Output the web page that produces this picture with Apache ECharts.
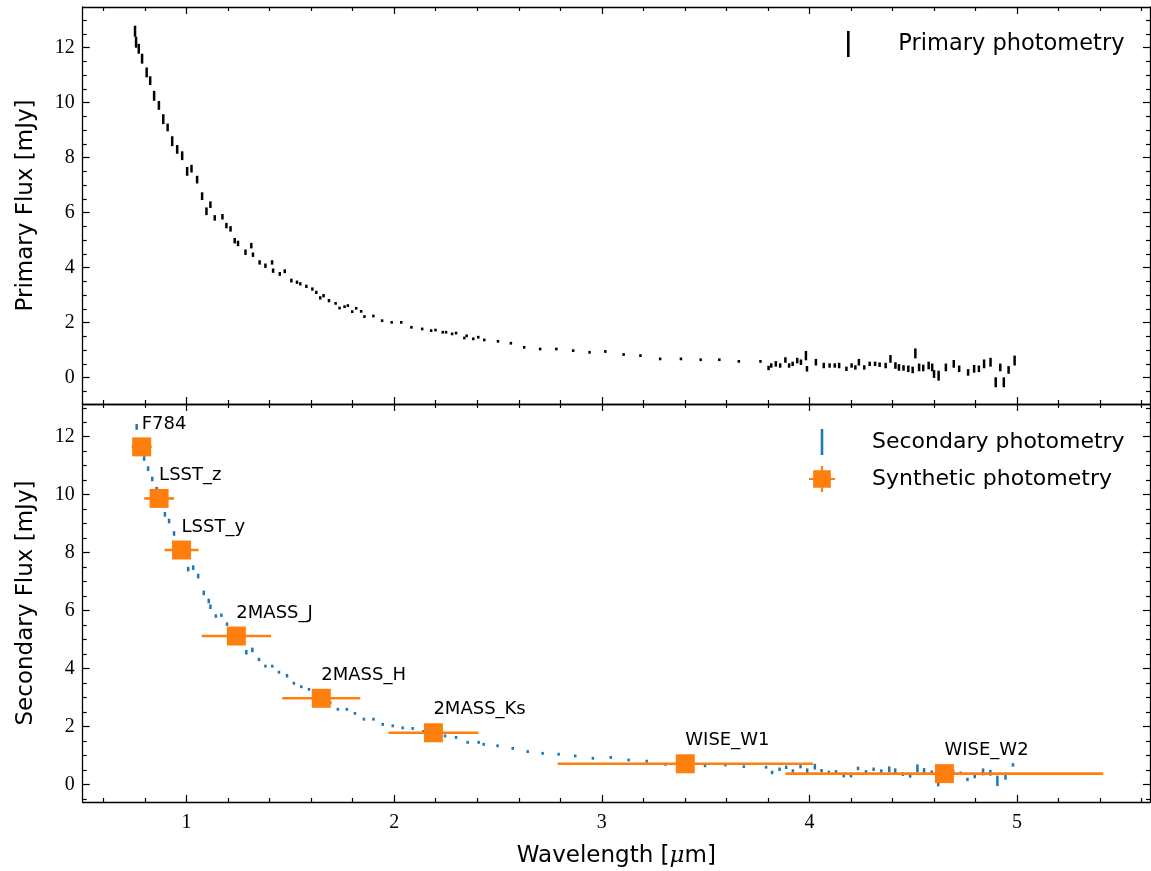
<!DOCTYPE html>
<html><head><meta charset="utf-8">
<script src="https://cdn.jsdelivr.net/npm/echarts@6/dist/echarts.min.js"></script>
<style>html,body{margin:0;padding:0;background:#fff}#c{width:1151px;height:871px}</style>
</head><body><div id="c"></div>
<script>
// ---------- data ----------
const primWl = [0.752,0.757,0.770,0.786,0.808,0.825,0.844,0.867,0.888,0.909,0.931,0.955,0.979,1.003,1.024,1.051,1.075,1.096,1.115,1.136,1.173,1.192,1.212,1.232,1.248,1.284,1.312,1.320,1.352,1.380,1.412,1.417,1.449,1.473,1.505,1.532,1.548,1.577,1.606,1.625,1.644,1.660,1.686,1.718,1.737,1.761,1.777,1.798,1.817,1.841,1.857,1.900,1.942,1.988,2.034,2.083,2.135,2.178,2.199,2.234,2.250,2.279,2.298,2.338,2.349,2.381,2.405,2.434,2.500,2.562,2.626,2.703,2.781,2.862,2.941,3.017,3.105,3.186,3.281,3.381,3.476,3.566,3.660,3.764,
  3.803,3.816,3.838,3.859,3.884,3.902,3.919,3.941,3.959,3.983,3.988,4.031,4.069,4.097,4.122,4.143,4.178,4.203,4.221,4.238,4.264,4.290,4.316,4.338,4.367,4.390,4.414,4.431,4.453,4.476,4.497,4.510,4.528,4.548,4.574,4.591,4.600,4.622,4.657,4.695,4.721,4.764,4.793,4.816,4.841,4.872,4.897,4.919,4.936,4.959,4.988];
const primFlux = [12.60,12.20,11.96,11.60,11.10,10.80,10.25,9.90,9.40,9.10,8.60,8.30,8.07,7.50,7.60,7.20,6.60,6.05,6.29,5.81,5.85,5.53,5.41,4.98,4.88,4.56,4.80,4.47,4.19,4.07,4.19,3.89,3.77,3.87,3.53,3.47,3.41,3.32,3.22,3.10,2.90,2.98,2.80,2.70,2.53,2.58,2.62,2.40,2.52,2.41,2.22,2.24,2.07,2.01,2.01,1.83,1.77,1.71,1.73,1.65,1.65,1.59,1.62,1.44,1.52,1.41,1.47,1.37,1.32,1.25,1.10,1.04,1.04,0.98,0.92,0.95,0.84,0.80,0.68,0.68,0.65,0.65,0.59,0.59,
  0.35,0.44,0.50,0.44,0.64,0.44,0.50,0.62,0.56,0.80,0.32,0.56,0.44,0.44,0.44,0.44,0.32,0.44,0.37,0.56,0.37,0.50,0.50,0.47,0.44,0.68,0.44,0.37,0.35,0.32,0.28,0.88,0.37,0.35,0.44,0.37,0.13,0.07,0.37,0.50,0.32,0.19,0.32,0.32,0.50,0.56,-0.17,0.37,-0.17,0.28,0.62];
const primErr = [0.20,0.20,0.18,0.18,0.18,0.16,0.18,0.16,0.18,0.14,0.18,0.16,0.16,0.16,0.14,0.14,0.14,0.14,0.12,0.10,0.10,0.10,0.10,0.10,0.10,0.10,0.10,0.08,0.08,0.08,0.08,0.08,0.07,0.07,0.07,0.06,0.06,0.06,0.06,0.06,0.06,0.06,0.06,0.05,0.05,0.05,0.05,0.05,0.05,0.05,0.05,0.05,0.05,0.05,0.05,0.05,0.05,0.05,0.05,0.05,0.05,0.05,0.05,0.05,0.05,0.05,0.05,0.05,0.05,0.05,0.05,0.05,0.05,0.05,0.05,0.05,0.05,0.05,0.05,0.05,0.05,0.05,0.05,0.05,
  0.08,0.08,0.10,0.08,0.10,0.08,0.08,0.10,0.10,0.17,0.10,0.12,0.10,0.08,0.08,0.10,0.08,0.08,0.08,0.12,0.08,0.08,0.08,0.08,0.10,0.14,0.12,0.12,0.10,0.12,0.12,0.18,0.14,0.12,0.14,0.14,0.14,0.18,0.14,0.14,0.12,0.12,0.14,0.12,0.16,0.16,0.18,0.14,0.18,0.14,0.18];

const secWl = [0.760,0.796,0.815,0.835,0.856,0.872,0.896,0.916,0.940,0.972,1.008,1.032,1.056,1.083,1.107,1.115,1.141,1.168,1.195,1.235,1.262,1.288,1.317,1.349,1.380,1.413,1.445,1.484,1.517,1.553,1.590,1.625,1.660,1.692,1.729,1.772,1.811,1.854,1.900,1.945,1.993,2.041,2.089,2.140,2.195,2.245,2.298,2.354,2.407,2.431,2.498,2.571,2.643,2.715,2.792,2.872,2.957,3.043,3.129,3.216,3.307,3.405,3.497,3.595,3.684,3.791,3.820,3.856,3.888,3.920,3.957,3.989,4.026,4.058,4.093,4.128,4.165,4.200,4.234,4.272,4.309,4.346,4.384,4.413,4.450,4.485,4.520,4.552,4.589,4.620,4.655,4.692,4.729,4.761,4.796,4.836,4.871,4.905,4.944,4.980];
const secFlux = [12.34,11.25,10.90,10.54,10.19,9.80,9.32,9.09,8.66,8.10,7.43,7.48,7.19,6.61,6.33,6.13,5.81,5.84,5.53,5.10,4.90,4.56,4.64,4.31,4.08,4.08,3.87,3.75,3.49,3.37,3.28,3.10,2.95,2.82,2.59,2.59,2.45,2.25,2.25,2.07,2.02,1.95,1.93,1.82,1.75,1.67,1.62,1.45,1.45,1.38,1.33,1.24,1.13,1.07,1.04,0.98,0.90,0.93,0.84,0.80,0.69,0.70,0.64,0.67,0.61,0.59,0.41,0.52,0.59,0.46,0.63,0.47,0.61,0.47,0.41,0.43,0.32,0.30,0.55,0.43,0.52,0.46,0.52,0.47,0.35,0.29,0.55,0.46,0.40,0.03,0.38,0.43,0.38,0.17,0.29,0.43,0.40,0.12,0.24,0.67];
const secErr = [0.10,0.08,0.08,0.08,0.08,0.08,0.08,0.08,0.08,0.08,0.08,0.08,0.08,0.08,0.08,0.08,0.06,0.06,0.06,0.06,0.06,0.08,0.08,0.06,0.05,0.05,0.05,0.06,0.05,0.05,0.05,0.05,0.05,0.05,0.05,0.05,0.05,0.05,0.05,0.05,0.05,0.05,0.05,0.05,0.05,0.05,0.05,0.05,0.05,0.05,0.05,0.05,0.05,0.05,0.05,0.05,0.05,0.05,0.05,0.05,0.05,0.05,0.05,0.05,0.05,0.05,0.06,0.06,0.06,0.06,0.08,0.08,0.10,0.06,0.06,0.06,0.08,0.06,0.06,0.06,0.06,0.06,0.10,0.08,0.06,0.06,0.14,0.10,0.08,0.10,0.08,0.08,0.06,0.06,0.08,0.12,0.10,0.18,0.08,0.06];

const synthNames = ['F784','LSST_z','LSST_y','2MASS_J','2MASS_H','2MASS_Ks','WISE_W1','WISE_W2'];
const synthWl    = [0.784,0.868,0.976,1.240,1.649,2.189,3.402,4.650];
const synthFlux  = [11.65,9.87,8.09,5.12,2.97,1.78,0.71,0.37];
const synthXerr  = [0.048,0.072,0.082,0.167,0.188,0.217,0.615,0.765];

const xTicks = [1,2,3,4,5];
const yTicks = [0,2,4,6,8,10,12];

// ---------- layout / style ----------
const SANS = 'DejaVu Sans';
const SERIF = 'Liberation Serif';
const X_RANGE = [0.5, 5.64];
const TOP_Y = [-0.96, 13.48];
const BOT_Y = [-0.61, 13.13];

function minorList(lo, hi, step, majors) {
  const out = [];
  const start = Math.ceil(lo / step - 1e-9);
  for (let k = start; k * step <= hi + 1e-9; k++) {
    const v = +(k * step).toFixed(4);
    if (!majors.some(m => Math.abs(m - v) < 1e-6)) out.push(v);
  }
  return out;
}
const xMinor = minorList(X_RANGE[0], X_RANGE[1], 0.2, xTicks);
const yMinorTop = minorList(TOP_Y[0], TOP_Y[1], 0.5, yTicks);
const yMinorBot = minorList(BOT_Y[0], BOT_Y[1], 0.5, yTicks);

function ax(gridIndex, position, range, ticks, len, showLine, label, extra) {
  return Object.assign({
    type: 'value', gridIndex, position, min: range[0], max: range[1],
    splitLine: { show: false },
    axisLine: { show: showLine, onZero: false, lineStyle: { color: '#000', width: 1.3 } },
    axisTick: { show: true, inside: true, length: len, customValues: ticks, lineStyle: { color: '#000', width: 1.2 } },
    axisLabel: label ? Object.assign({ show: true, customValues: ticks, color: '#000', fontFamily: SERIF, fontSize: 20 }, label) : { show: false },
    axisPointer: { show: false }
  }, extra || {});
}

const xAxes = [
  ax(0, 'bottom', X_RANGE, xTicks, 7, true, null),
  ax(0, 'bottom', X_RANGE, xMinor, 4, false, null),
  ax(0, 'top', X_RANGE, xTicks, 7, true, null),
  ax(0, 'top', X_RANGE, xMinor, 4, false, null),
  ax(1, 'bottom', X_RANGE, xTicks, 7, true, { margin: 11 }, {
    name: 'Wavelength [{i|μ}m]', nameLocation: 'middle', nameGap: 43,
    nameTextStyle: { fontFamily: SANS, fontSize: 23, color: '#000',
      rich: { i: { fontFamily: 'DejaVu Serif', fontStyle: 'italic', fontSize: 23, color: '#000' } } }
  }),
  ax(1, 'bottom', X_RANGE, xMinor, 4, false, null),
  ax(1, 'top', X_RANGE, xTicks, 7, true, null),
  ax(1, 'top', X_RANGE, xMinor, 4, false, null)
];
const yAxes = [
  ax(0, 'left', TOP_Y, yTicks, 7, true, { margin: 8 }, {
    name: 'Primary Flux [mJy]', nameLocation: 'middle', nameGap: 45,
    nameTextStyle: { fontFamily: SANS, fontSize: 23, color: '#000' }
  }),
  ax(0, 'left', TOP_Y, yMinorTop, 4, false, null),
  ax(0, 'right', TOP_Y, yTicks, 7, true, null),
  ax(0, 'right', TOP_Y, yMinorTop, 4, false, null),
  ax(1, 'left', BOT_Y, yTicks, 7, true, { margin: 8 }, {
    name: 'Secondary Flux [mJy]', nameLocation: 'middle', nameGap: 45,
    nameTextStyle: { fontFamily: SANS, fontSize: 23, color: '#000' }
  }),
  ax(1, 'left', BOT_Y, yMinorBot, 4, false, null),
  ax(1, 'right', BOT_Y, yTicks, 7, true, null),
  ax(1, 'right', BOT_Y, yMinorBot, 4, false, null)
];

function vbar(params, api) {
  const x = api.value(0), y = api.value(1), e = api.value(2);
  const a = api.coord([x, y - e]), b = api.coord([x, y + e]);
  return { type: 'line', shape: { x1: a[0], y1: a[1], x2: b[0], y2: b[1] },
    style: { stroke: api.visual('color'), lineWidth: 2.5 } };
}
function hbar(params, api) {
  const x = api.value(0), y = api.value(1), e = api.value(2);
  const a = api.coord([x - e, y]), b = api.coord([x + e, y]);
  return { type: 'line', shape: { x1: a[0], y1: a[1], x2: b[0], y2: b[1] },
    style: { stroke: api.visual('color'), lineWidth: 2.6 } };
}

const VBAR_ICON = 'path://M0,0H2V20H0Z';
const SYN_ICON = 'path://M4.5,4.5H23.5V23.5H4.5Z M0,12.8H28V15.2H0Z M12.8,0H15.2V28H12.8Z';
const legendText = { fontFamily: SANS, fontSize: 22, color: '#000' };

const option = {
  animation: false,
  backgroundColor: '#fff',
  grid: [
    { left: 82.7, right: 1, top: 7, height: 397 },
    { left: 82.7, right: 1, top: 404, height: 398 }
  ],
  xAxis: xAxes,
  yAxis: yAxes,
  legend: [
    { orient: 'vertical', left: 842, top: 26, itemWidth: 90, itemHeight: 26, itemGap: 12,
      selectedMode: false, textStyle: { fontFamily: SANS, fontSize: 22.5, color: '#000' },
      data: [{ name: 'Primary photometry', icon: VBAR_ICON }] },
    { orient: 'vertical', left: 804, top: 424, itemWidth: 90, itemHeight: 26, itemGap: 11,
      selectedMode: false, textStyle: legendText,
      data: [{ name: 'Secondary photometry', icon: VBAR_ICON }, { name: 'Synthetic photometry', icon: SYN_ICON }] }
  ],
  series: [
    { name: 'Primary photometry', type: 'custom', xAxisIndex: 0, yAxisIndex: 0,
      itemStyle: { color: '#000' }, renderItem: vbar, encode: { x: 0, y: 1 },
      data: primWl.map((w, i) => [w, primFlux[i], primErr[i]]) },
    { name: 'Secondary photometry', type: 'custom', xAxisIndex: 4, yAxisIndex: 4,
      itemStyle: { color: '#1f77b4' }, renderItem: vbar, encode: { x: 0, y: 1 }, z: 2,
      data: secWl.map((w, i) => [w, secFlux[i], secErr[i]]) },
    { name: 'synthErr', type: 'custom', xAxisIndex: 4, yAxisIndex: 4,
      itemStyle: { color: '#ff7f0e' }, renderItem: hbar, encode: { x: 0, y: 1 }, z: 3,
      data: synthWl.map((w, i) => [w, synthFlux[i], synthXerr[i]]) },
    { name: 'Synthetic photometry', type: 'scatter', xAxisIndex: 4, yAxisIndex: 4,
      symbol: 'rect', symbolSize: 19, z: 4,
      itemStyle: { color: '#ff7f0e', opacity: 1 },
      label: { show: true, position: [9.5, -4.5], align: 'left', verticalAlign: 'bottom',
        formatter: p => synthNames[p.dataIndex], fontFamily: SANS, fontSize: 18, color: '#000' },
      data: synthWl.map((w, i) => [w, synthFlux[i]]) }
  ]
};
echarts.init(document.getElementById('c'), null, { renderer: 'canvas' }).setOption(option);
</script>
</body></html>
